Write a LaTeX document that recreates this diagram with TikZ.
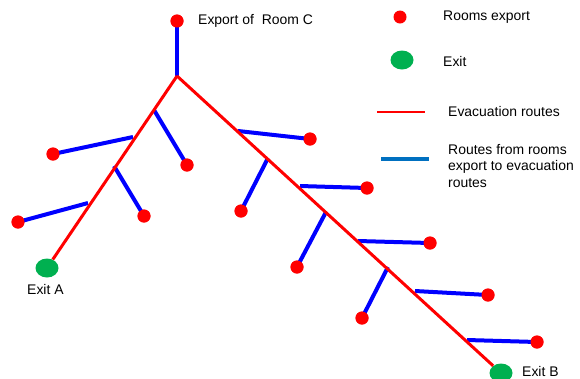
\documentclass[tikz,border=0pt]{standalone}
\usepackage{fontspec}
\setmainfont{Liberation Sans}
\usetikzlibrary{shapes.geometric}
\definecolor{roomred}{RGB}{255,0,0}
\definecolor{exitgreen}{RGB}{0,176,80}
\definecolor{routeblue}{RGB}{0,0,255}
\definecolor{legblue}{RGB}{0,112,192}
\tikzset{
  room/.style={circle,fill=roomred,draw=none,minimum size=13bp,inner sep=0pt},
  exitnode/.style={ellipse,fill=exitgreen,draw=none,minimum width=23bp,minimum height=19bp,inner sep=0pt},
  evac/.style={draw=roomred,line width=3bp},
  feed/.style={draw=routeblue,line width=4bp},
  lbl/.style={anchor=west,inner sep=0pt,font=\fontsize{14}{16.5}\selectfont,align=left}
}
\begin{document}
\begin{tikzpicture}[x=1bp,y=-1bp]
\useasboundingbox (0,0) rectangle (580,378);
% exits and top room
\node[room] (rc) at (177,21) {};
\coordinate (j0) at (177,76);
\node[exitnode] (ea) at (47,268) {};
\node[exitnode] (eb) at (501,373) {};
% left junctions
\coordinate (l1) at (154,110);
\coordinate (l2) at (133,137);
\coordinate (l3) at (114,166);
\coordinate (l4) at (88,203);
% right junctions
\coordinate (r1) at (238,131);
\coordinate (r2) at (268,158);
\coordinate (r3) at (300,186);
\coordinate (r4) at (326,212);
\coordinate (r5) at (358,241);
\coordinate (r6) at (388,267);
\coordinate (r7) at (415,291);
\coordinate (r8) at (467,340);
% rooms
\node[room] (ml1) at (187,165) {};
\node[room] (ml2) at (53,154) {};
\node[room] (ml3) at (144,216) {};
\node[room] (ml4) at (18,222) {};
\node[room] (mr1) at (310,139) {};
\node[room] (mr2) at (241,211) {};
\node[room] (mr3) at (367,188) {};
\node[room] (mr4) at (297,267) {};
\node[room] (mr5) at (430,243) {};
\node[room] (mr6) at (362,318) {};
\node[room] (mr7) at (488,295) {};
\node[room] (mr8) at (537,342) {};
% blue routes
\draw[feed] (rc.center) -- (j0);
\foreach \j/\m in {l1/ml1,l2/ml2,l3/ml3,l4/ml4,r1/mr1,r2/mr2,r3/mr3,r4/mr4,r5/mr5,r6/mr6,r7/mr7,r8/mr8}
  \draw[feed] (\j) -- (\m.center);
% redraw rooms on top
\foreach \m in {ml1,ml2,ml3,ml4,mr1,mr2,mr3,mr4,mr5,mr6,mr7,mr8,rc}
  \fill[roomred] (\m.center) circle (6.5bp);
% red evacuation routes
\draw[evac] (j0) -- (ea);
\draw[evac] (j0) -- (eb);
% labels
\node[lbl] (tc) at (198,21) {Export of\ \ Room C};
\node[lbl] (ta) at (27,289) {Exit A};
\node[lbl] (tb) at (522,371) {Exit B};
% legend
\node[room] (kroom) at (400,17) {};
\node[lbl] (kroomt) at (443,17) {Rooms export};
\node[exitnode] (kexit) at (402,60) {};
\node[lbl] (kexitt) at (443,61) {Exit};
\coordinate (kr1) at (377,112);
\coordinate (kr2) at (425,112);
\draw[evac,line width=2.5bp] (kr1) -- (kr2);
\node[lbl] (krt) at (448,112) {Evacuation routes};
\coordinate (kb1) at (381,159);
\coordinate (kb2) at (429,159);
\draw[draw=legblue,line width=4bp] (kb1) -- (kb2);
\node[lbl] (kbt) at (448,166) {Routes from rooms\\export to evacuation\\routes};
\end{tikzpicture}
\end{document}
